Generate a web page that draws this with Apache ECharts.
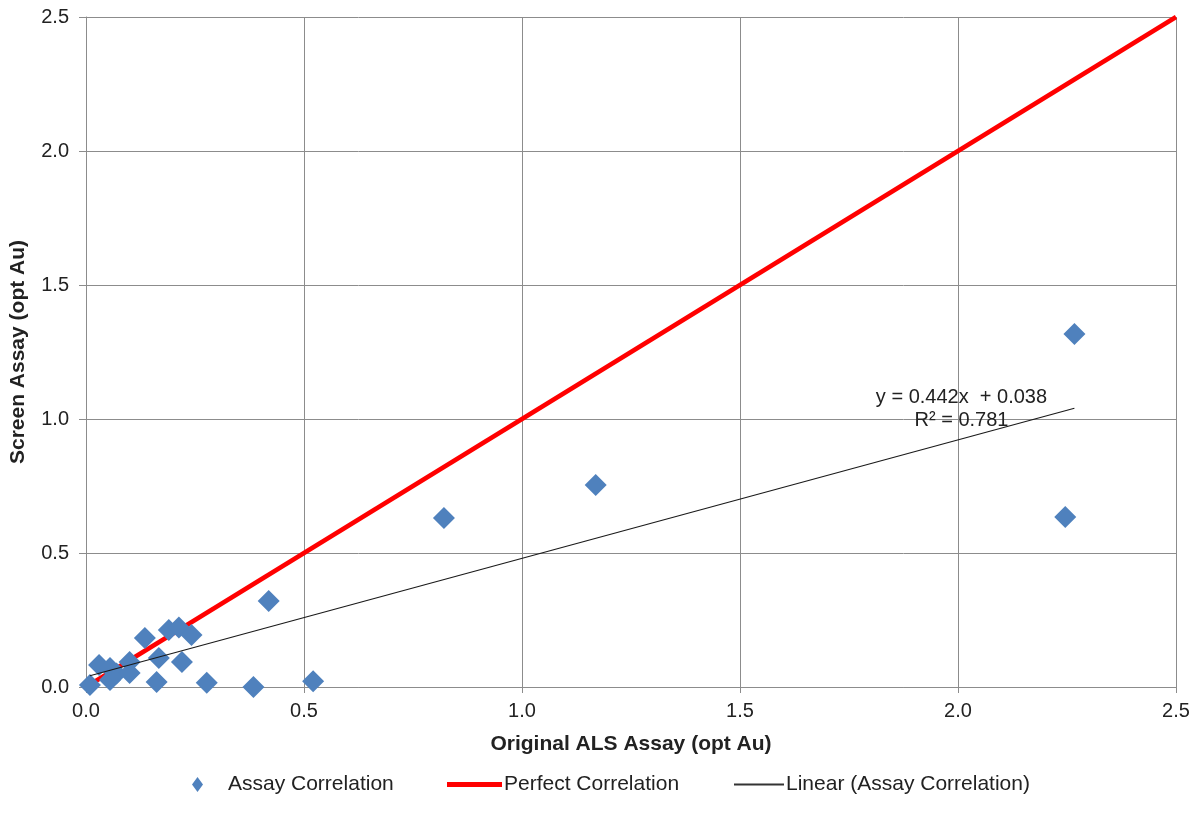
<!DOCTYPE html>
<html>
<head>
<meta charset="utf-8">
<script src="https://cdn.jsdelivr.net/npm/echarts@6/dist/echarts.min.js"></script>
<style>
html, body { margin: 0; padding: 0; background: #fff; }
#main { width: 1197px; height: 825px; }
</style>
</head>
<body>
<div id="main"></div>
<script>
// assay pairs: original ALS (x) vs screen (y)
var alsAssay = [0.009, 0.030, 0.055, 0.055, 0.070, 0.100, 0.100, 0.135, 0.167, 0.162,
    0.190, 0.213, 0.242, 0.220, 0.277, 0.384, 0.419, 0.521, 0.821, 1.169, 2.246, 2.267];
var screenAssay = [0.007, 0.082, 0.071, 0.026, 0.050, 0.093, 0.052, 0.183, 0.108, 0.019,
    0.213, 0.222, 0.194, 0.093, 0.016, 0.000, 0.321, 0.021, 0.631, 0.754, 0.634, 1.317];
var perfectX = [0, 2.5];
var perfectY = [0, 2.5];
var trendX = [0.009, 2.267];
var trendY = [0.042, 1.040];
var trendLabel = ['y = 0.442x  + 0.038', 'R\u00b2 = 0.781'];
var trendLabelAt = [2.008, 1.039];

function pairs(xs, ys) {
    var res = [];
    for (var i = 0; i < xs.length; i++) {
        res.push([xs[i], ys[i]]);
    }
    return res;
}

var font = 'Liberation Sans, Arial, sans-serif';
var gridColor = '#8c8c8c';

var myChart = echarts.init(document.getElementById('main'));
var option = {
    animation: false,
    backgroundColor: '#fff',
    textStyle: { fontFamily: font },
    grid: { left: 84, right: 21, top: 17, bottom: 138, containLabel: false },
    legend: [
        {
            left: 187, top: 769,
            data: [{ name: 'Assay Correlation', icon: 'diamond' }],
            itemWidth: 11, itemHeight: 15,
            textStyle: { fontSize: 21, color: '#222', padding: [0, 0, 0, 20], fontFamily: font }
        },
        {
            left: 442, top: 769,
            data: [{ name: 'Perfect Correlation', icon: 'rect' }],
            itemWidth: 55, itemHeight: 5,
            textStyle: { fontSize: 21, color: '#222', padding: [0, 0, 0, -3], fontFamily: font }
        },
        {
            left: 729, top: 769,
            data: [{ name: 'Linear (Assay Correlation)', icon: 'rect' }],
            itemWidth: 50, itemHeight: 2,
            textStyle: { fontSize: 21, color: '#222', padding: [0, 0, 0, -3], fontFamily: font }
        }
    ],
    xAxis: {
        type: 'value',
        min: 0, max: 2.5, interval: 0.5,
        name: 'Original ALS Assay (opt Au)',
        nameLocation: 'middle',
        nameGap: 47,
        nameTextStyle: { fontSize: 21, fontWeight: 'bold', color: '#222', fontFamily: font },
        axisLine: { show: true, lineStyle: { color: gridColor, width: 1 } },
        axisTick: { show: true, length: 6, lineStyle: { color: gridColor } },
        axisLabel: {
            fontSize: 20, color: '#222', margin: 14, fontFamily: font,
            formatter: function (v) { return v.toFixed(1); }
        },
        splitLine: { show: true, lineStyle: { color: gridColor, width: 1 } }
    },
    yAxis: {
        type: 'value',
        min: 0, max: 2.5, interval: 0.5,
        name: 'Screen Assay (opt Au)',
        nameLocation: 'middle',
        nameGap: 57,
        nameRotate: 90,
        nameTextStyle: { fontSize: 21, fontWeight: 'bold', color: '#222', fontFamily: font },
        axisLine: { show: true, lineStyle: { color: gridColor, width: 1 } },
        axisTick: { show: true, length: 7, lineStyle: { color: gridColor } },
        axisLabel: {
            fontSize: 20, color: '#222', margin: 17, fontFamily: font,
            formatter: function (v) { return v.toFixed(1); }
        },
        splitLine: { show: true, lineStyle: { color: gridColor, width: 1 } }
    },
    series: [
        {
            name: 'Assay Correlation',
            type: 'scatter',
            symbol: 'diamond',
            symbolSize: [22, 22],
            z: 3,
            itemStyle: { color: '#4f81bd', opacity: 1 },
            data: pairs(alsAssay, screenAssay)
        },
        {
            name: 'Perfect Correlation',
            type: 'line',
            showSymbol: false,
            symbol: 'none',
            z: 2,
            lineStyle: { color: '#ff0000', width: 4.5 },
            itemStyle: { color: '#ff0000' },
            data: pairs(perfectX, perfectY)
        },
        {
            name: 'Linear (Assay Correlation)',
            type: 'line',
            showSymbol: false,
            symbol: 'none',
            z: 4,
            lineStyle: { color: '#1a1a1a', width: 1.2 },
            itemStyle: { color: '#333' },
            data: pairs(trendX, trendY),
            markPoint: {
                symbol: 'rect',
                symbolSize: 0,
                silent: true,
                data: [{ coord: trendLabelAt }],
                label: {
                    show: true,
                    position: 'inside',
                    align: 'center',
                    verticalAlign: 'middle',
                    fontSize: 20,
                    lineHeight: 23,
                    color: '#222',
                    fontFamily: font,
                    formatter: function () { return trendLabel.join('\n'); }
                }
            }
        }
    ]
};
myChart.setOption(option);
</script>
</body>
</html>
